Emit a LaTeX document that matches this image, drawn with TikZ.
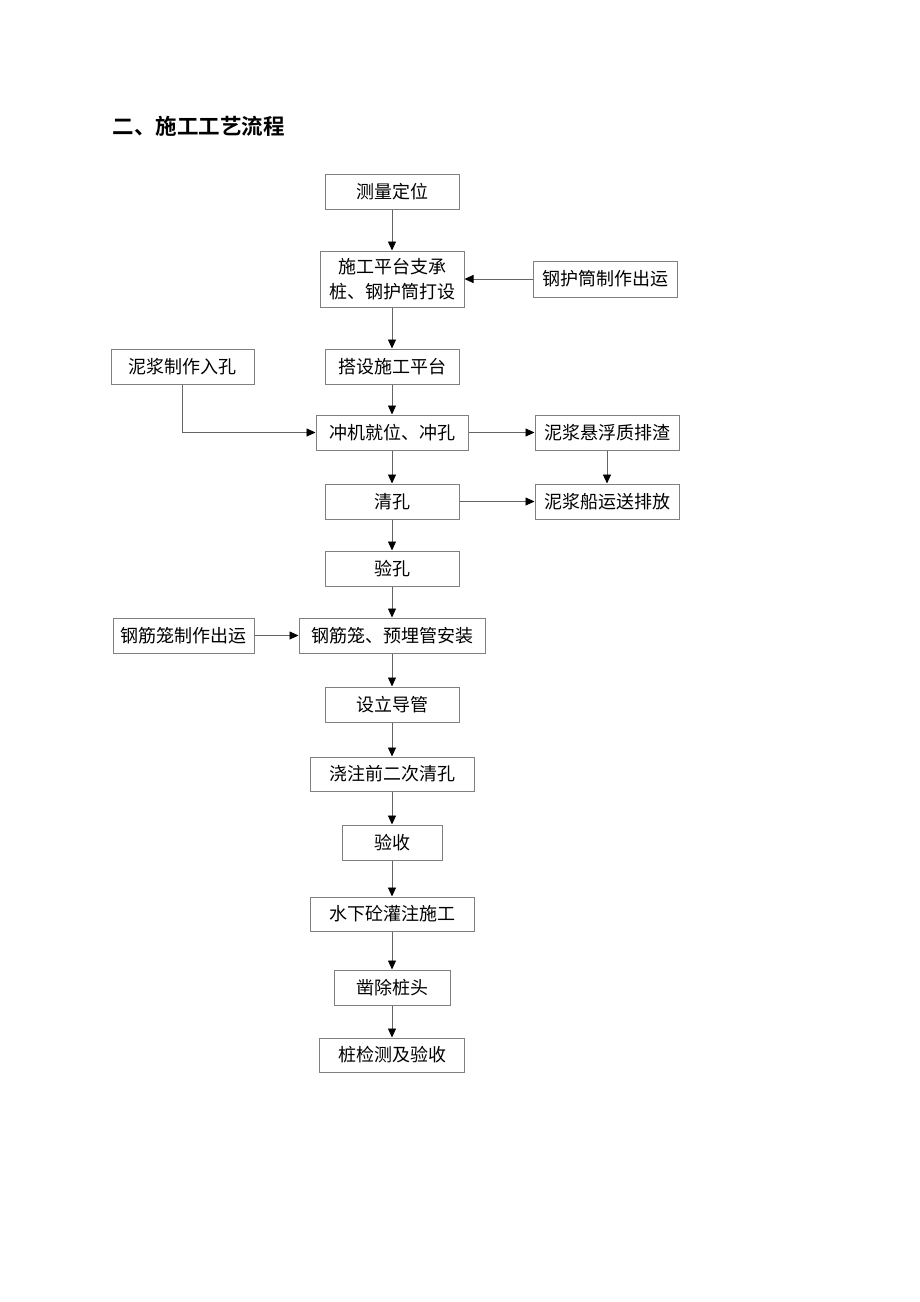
\documentclass[tikz,border=0pt]{standalone}
\usepackage{fontspec}
\newfontfamily\cjk{Noto Sans CJK SC}
\newfontfamily\cjkbold{Noto Sans CJK SC Bold}
\usetikzlibrary{arrows.meta}
\tikzset{
  stepbox/.style={draw={rgb,255:red,128;green,128;blue,128}, line width=1pt, inner sep=0pt,
    align=center, font=\cjk\fontsize{18}{25}\selectfont},
  flow/.style={draw={rgb,255:red,100;green,100;blue,100}, line width=0.8pt,
    -{Triangle[length=9pt,width=8pt,color=black]}}
}

\begin{document}
\begin{tikzpicture}[x=1pt,y=-1pt]

\useasboundingbox (0,0) rectangle (920,1302);

\node[anchor=west, font=\cjkbold\fontsize{21.5}{26}\selectfont] (title) at (109,126) {二、施工工艺流程};

\node[stepbox, minimum width=134pt, minimum height=35pt] (A) at (392,191.5) {测量定位};
\node[stepbox, minimum width=144pt, minimum height=56pt] (B) at (392,279) {施工平台支承\\桩、钢护筒打设};
\node[stepbox, minimum width=144pt, minimum height=36pt] (B1) at (605,279) {钢护筒制作出运};
\node[stepbox, minimum width=143pt, minimum height=35pt] (C1) at (182.5,366.5) {泥浆制作入孔};
\node[stepbox, minimum width=134pt, minimum height=35pt] (C) at (392,366.5) {搭设施工平台};
\node[stepbox, minimum width=152pt, minimum height=35pt] (D) at (392,432.5) {冲机就位、冲孔};
\node[stepbox, minimum width=144pt, minimum height=35pt] (D1) at (607,432.5) {泥浆悬浮质排渣};
\node[stepbox, minimum width=134pt, minimum height=35pt] (E) at (392,501.5) {清孔};
\node[stepbox, minimum width=144pt, minimum height=35pt] (E1) at (607,501.5) {泥浆船运送排放};
\node[stepbox, minimum width=134pt, minimum height=35pt] (F) at (392,568.5) {验孔};
\node[stepbox, minimum width=141pt, minimum height=35pt] (G1) at (183.5,635.5) {钢筋笼制作出运};
\node[stepbox, minimum width=186pt, minimum height=35pt] (G) at (392,635.5) {钢筋笼、预埋管安装};
\node[stepbox, minimum width=134pt, minimum height=35pt] (H) at (392,704.5) {设立导管};
\node[stepbox, minimum width=164pt, minimum height=34pt] (I) at (392,774) {浇注前二次清孔};
\node[stepbox, minimum width=100pt, minimum height=35pt] (J) at (392,842.5) {验收};
\node[stepbox, minimum width=164pt, minimum height=34pt] (K) at (392,914) {水下砼灌注施工};
\node[stepbox, minimum width=116pt, minimum height=35pt] (L) at (392,987.5) {凿除桩头};
\node[stepbox, minimum width=145pt, minimum height=34pt] (M) at (392,1055) {桩检测及验收};

% main line
\draw[flow] (A) -- (B);
\draw[flow] (B) -- (C);
\draw[flow] (C) -- (D);
\draw[flow] (D) -- (E);
\draw[flow] (E) -- (F);
\draw[flow] (F) -- (G);
\draw[flow] (G) -- (H);
\draw[flow] (H) -- (I);
\draw[flow] (I) -- (J);
\draw[flow] (J) -- (K);
\draw[flow] (K) -- (L);
\draw[flow] (L) -- (M);

% side inputs and outputs
\draw[flow] (B1) -- (B);
\draw[flow] (C1.south) |- (D.west);
\draw[flow] (D) -- (D1);
\draw[flow] (D1) -- (E1);
\draw[flow] (E) -- (E1);
\draw[flow] (G1) -- (G);

\end{tikzpicture}
\end{document}
